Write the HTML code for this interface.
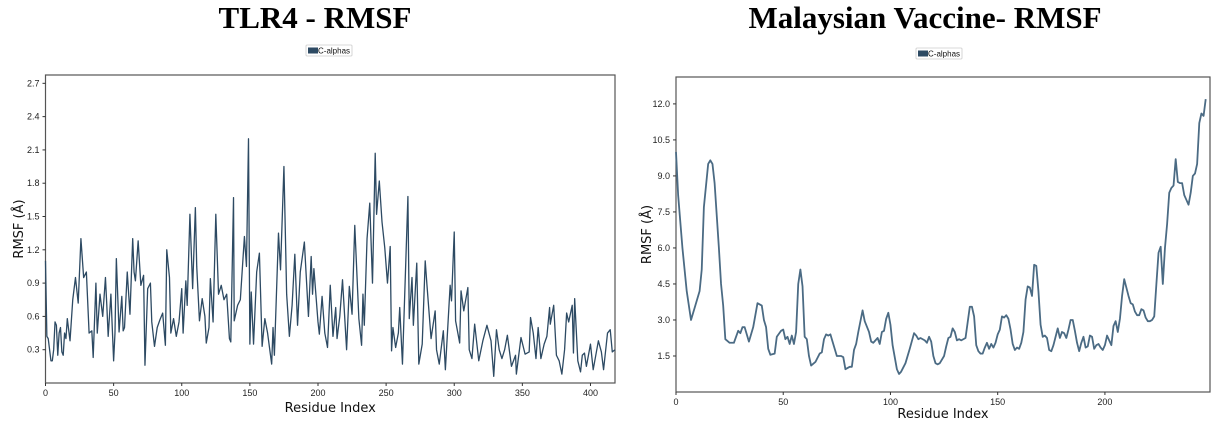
<!DOCTYPE html>
<html><head><meta charset="utf-8"><style>
html,body{margin:0;padding:0;background:#fff;width:1215px;height:432px;overflow:hidden}
svg{display:block}
.t{font-family:"Liberation Serif",serif;font-weight:bold;font-size:31px}
.tk{font-family:"Liberation Sans",sans-serif;font-size:9px;fill:#222}
.al{font-family:"DejaVu Sans","Liberation Sans",sans-serif;font-size:13px;fill:#111}
.lg{font-family:"Liberation Sans",sans-serif;font-size:8px;fill:#111}
</style></head><body>
<svg id="svg" width="1215" height="432">
<text class="t" x="315" y="28" text-anchor="middle">TLR4 - RMSF</text>
<text class="t" x="925" y="28" text-anchor="middle">Malaysian Vaccine- RMSF</text>
</svg>
<script>
// ---- Left chart data (TLR4)
const leftResidues=[0,1,2,4,5,6,7,8,9,10,11,12,13,14,15,16,18,20,22,24,26,28,30,32,34,35,37,38,40,42,44,45,46,48,50,51,52,54,56,57,58,60,62,64,65,66,68,70,72,73,75,77,78,80,82,84,86,88,89,91,92,94,96,98,100,101,103,104,106,108,110,111,113,115,117,118,120,121,123,125,127,129,131,133,135,136,138,138.5,141,143,146,147.5,149,150,151,152.7,155,157,159,161,163,166,167,168,171,172.5,175,177,179,181,183,185,187,190,193,195,196,197,200,201,203,205,207,209,211,213,214,216,218,221,223,225,227,230,232,233,234,236,238,240,242,243,245,247,249,251,253,254,255,257,259,260,262,266,267,269,270,272.5,274,276.5,278.7,280,283,286,287,289,292,293.5,297,298,300,301,304,305,307,310,311,313,315,318,321,324,327,329,331,333,335,337,339,342,345,345.6,349,352,355,356,358,360,361.6,363.6,366,368,370,370.5,373,375,377,379,381,382.5,384,386.6,387.5,388.4,390.7,392.7,394,395.6,397,400,402,405.8,408,409.6,412.5,414.5,416,418];
const leftValues=[1.1,0.42,0.4,0.2,0.2,0.3,0.55,0.52,0.25,0.45,0.5,0.28,0.25,0.45,0.4,0.58,0.38,0.75,0.95,0.72,1.3,0.95,1.0,0.45,0.47,0.23,0.9,0.45,0.8,0.6,0.95,0.7,0.42,0.8,0.2,0.45,1.12,0.46,0.78,0.47,0.5,1.0,0.62,1.3,1.0,0.92,1.28,0.88,0.97,0.16,0.85,0.9,0.55,0.33,0.5,0.57,0.63,0.34,1.2,0.95,0.45,0.58,0.42,0.55,0.85,0.45,0.92,0.7,1.52,0.85,1.58,1.05,0.56,0.76,0.6,0.36,0.5,0.94,0.55,1.52,0.8,0.88,0.75,0.8,0.4,0.37,1.67,0.56,0.7,0.75,1.32,1.05,2.2,0.35,0.82,0.35,1.0,1.17,0.33,0.58,0.45,0.17,0.5,0.25,1.35,1.02,1.95,0.8,0.42,0.7,1.16,0.52,1.0,1.27,0.6,1.14,0.8,1.03,0.55,0.44,0.78,0.45,0.32,0.88,0.42,0.68,0.4,0.6,0.93,0.3,0.87,0.62,1.42,0.58,0.34,0.8,0.52,1.3,1.62,0.9,2.07,1.52,1.82,1.45,1.22,0.9,1.23,0.29,0.5,0.32,0.45,0.68,0.17,1.68,0.58,0.95,0.52,1.08,0.17,0.35,1.1,0.88,0.4,0.65,0.3,0.17,0.47,0.12,0.88,0.74,1.36,0.56,0.36,0.83,0.65,0.86,0.3,0.22,0.53,0.2,0.38,0.52,0.38,0.06,0.48,0.3,0.22,0.3,0.43,0.15,0.25,0.08,0.41,0.26,0.28,0.59,0.45,0.22,0.5,0.22,0.35,0.42,0.68,0.53,0.7,0.25,0.2,0.08,0.3,0.63,0.55,0.7,0.27,0.76,0.2,0.1,0.25,0.27,0.15,0.35,0.12,0.38,0.28,0.12,0.45,0.48,0.28,0.3];
const leftYTicks=[0.3,0.6,0.9,1.2,1.5,1.8,2.1,2.4,2.7];
const leftXTicks=[0,50,100,150,200,250,300,350,400];

// ---- Right chart data (Malaysian vaccine)
const rightResidues=[0,1,3,5,7,9,11,12,13,15,16,17,18,20,21,22,23,25,27,29,30,31,32,34,36,38,40,41,42,43,44,46,47,49,50,51,52,53,54,55,56,57,58,59,60,61,62,63,65,67,68,69,70,71,72,73,75,77,78,79,81,82,83,84,85,87,88,90,91,92,94,95,96,97,98,99,100,101,103,104,105,107,109,111,112,113,114,116,117,118,119,120,121,122,123,125,126,127,128,129,130,131,132,133,135,136,137,138,139,140,141,142,143,144,145,146,147,148,149,150,151,152,153,154,155,156,157,158,159,160,161,162,163,164,165,166,167,168,169,170,171,172,173,174,175,176,177,178,179,180,181,182,183,184,185,186,187,188,189,190,191,192,193,194,195,196,197,198,199,200,201,202,203,204,205,206,207,208,209,210,211,212,213,214,215,216,217,218,219,220,221,222,223,224,225,226,227,228,229,230,231,232,233,234,235,236,237,238,239,240,241,242,243,244,245,246,247];
const rightValues=[10.0,8.2,6.0,4.2,3.0,3.6,4.2,5.1,7.7,9.5,9.65,9.5,8.7,6.0,4.5,3.6,2.2,2.05,2.05,2.55,2.45,2.7,2.7,2.1,2.7,3.7,3.6,3.0,2.7,1.8,1.55,1.6,2.3,2.55,2.6,2.2,2.3,2.0,2.35,2.0,2.5,4.5,5.1,4.4,2.3,2.2,1.5,1.1,1.25,1.6,1.65,2.2,2.4,2.35,2.4,2.1,1.5,1.5,1.45,0.95,1.05,1.05,1.75,2.0,2.5,3.4,2.95,2.5,2.1,2.05,2.25,2.0,2.5,2.55,3.05,3.3,2.8,1.95,0.95,0.75,0.85,1.2,1.8,2.45,2.35,2.2,2.25,2.15,2.05,2.3,2.1,1.5,1.2,1.15,1.2,1.5,1.9,2.25,2.3,2.65,2.5,2.15,2.2,2.15,2.25,2.9,3.55,3.55,3.15,1.95,1.7,1.6,1.6,1.85,2.05,1.8,2.0,1.85,2.05,2.4,2.6,3.15,3.1,3.2,3.05,2.6,2.0,1.75,1.85,1.8,2.05,2.5,3.85,4.4,4.35,4.0,5.3,5.25,4.2,2.8,2.3,2.35,2.25,1.75,1.7,1.95,2.3,2.65,2.25,2.5,2.45,2.25,2.6,3.0,3.0,2.55,2.05,1.7,2.05,2.3,1.85,1.9,2.35,2.3,1.8,1.95,2.0,1.85,1.75,1.95,2.35,2.15,1.95,2.75,2.95,2.5,3.05,4.0,4.7,4.35,4.0,3.7,3.65,3.35,3.2,3.2,3.45,3.4,3.1,2.95,2.95,3.0,3.15,4.5,5.8,6.05,4.5,6.0,7.0,8.3,8.5,8.6,9.7,8.75,8.7,8.7,8.2,8.0,7.8,8.3,9.0,9.1,9.5,11.2,11.6,11.5,12.2];
const rightYTicks=[1.5,3.0,4.5,6.0,7.5,9.0,10.5,12.0];
const rightXTicks=[0,50,100,150,200];

const NS='http://www.w3.org/2000/svg';
const svg=document.getElementById('svg');
function mk(tag,attrs,parent){const e=document.createElementNS(NS,tag);for(const k in attrs)e.setAttribute(k,attrs[k]);(parent||svg).appendChild(e);return e;}

function drawChart(p,xs,ys,yTicks,xTicks,col,prefix){
  const g=mk('g',{});
  
  
  const sx=v=>p.x0+(v-p.xmin)/(p.xmax-p.xmin)*(p.x1-p.x0);
  const sy=v=>p.y1-(v-p.ymin)/(p.ymax-p.ymin)*(p.y1-p.y0);
  // legend
  const lg=mk('g',{},g);
  
  
  mk('rect',{x:p.lx,y:p.ly,width:46,height:11,fill:'#fff',stroke:'#ccc','stroke-width':0.8,rx:1},lg);
  mk('rect',{x:p.lx+2,y:p.ly+2.5,width:10,height:6,fill:'#2d4a63'},lg);
  const lt=mk('text',{x:p.lx+12,y:p.ly+8.5,class:'lg'},lg);lt.textContent='C-alphas';
  // frame
  const fr=mk('rect',{x:p.x0,y:p.y0,width:p.x1-p.x0,height:p.y1-p.y0,fill:'none',stroke:'#555','stroke-width':1.2},g);
  
  
  // y ticks
  yTicks.forEach(v=>{const y=sy(v);
    mk('line',{x1:p.x0-3,x2:p.x0,y1:y,y2:y,stroke:'#333'},g);
    const t=mk('text',{x:p.x0-6,y:y+3,class:'tk','text-anchor':'end'},g);
    
    
    t.textContent=v.toFixed(1);});
  xTicks.forEach(v=>{const x=sx(v);
    mk('line',{x1:x,x2:x,y1:p.y1,y2:p.y1+3,stroke:'#333'},g);
    const t=mk('text',{x:x,y:p.y1+13,class:'tk','text-anchor':'middle'},g);
    
    
    t.textContent=v;});
  const xl=mk('text',{x:(p.x0+p.x1)/2,y:p.xly,class:'al','text-anchor':'middle'},g);
  
  
  xl.textContent='Residue Index';
  const yl=mk('text',{x:0,y:0,class:'al','text-anchor':'middle',transform:'translate('+p.ylx+','+((p.y0+p.y1)/2)+') rotate(-90)'},g);
  
  
  yl.textContent='RMSF (Å)';
  let d='';
  xs.forEach((x,i)=>{d+=(i?'L':'M')+sx(x).toFixed(2)+','+sy(ys[i]).toFixed(2);});
  const ln=mk('path',{d:d,fill:'none',stroke:col,'stroke-width':p.sw,'stroke-linejoin':'round'},g);
  
  
}
drawChart({x0:45.5,x1:615,y0:75,y1:383,xmin:0,xmax:418,ymin:0,ymax:2.775,lx:306,ly:45,xly:412,ylx:23,sw:1.3},leftResidues,leftValues,leftYTicks,leftXTicks,'#2d4a63','left');
drawChart({x0:676,x1:1210,y0:77,y1:392,xmin:0,xmax:249,ymin:0,ymax:13.12,lx:916,ly:48,xly:418,ylx:651,sw:1.8},rightResidues,rightValues,rightYTicks,rightXTicks,'#4b6b84','right');
</script>
</body></html>
